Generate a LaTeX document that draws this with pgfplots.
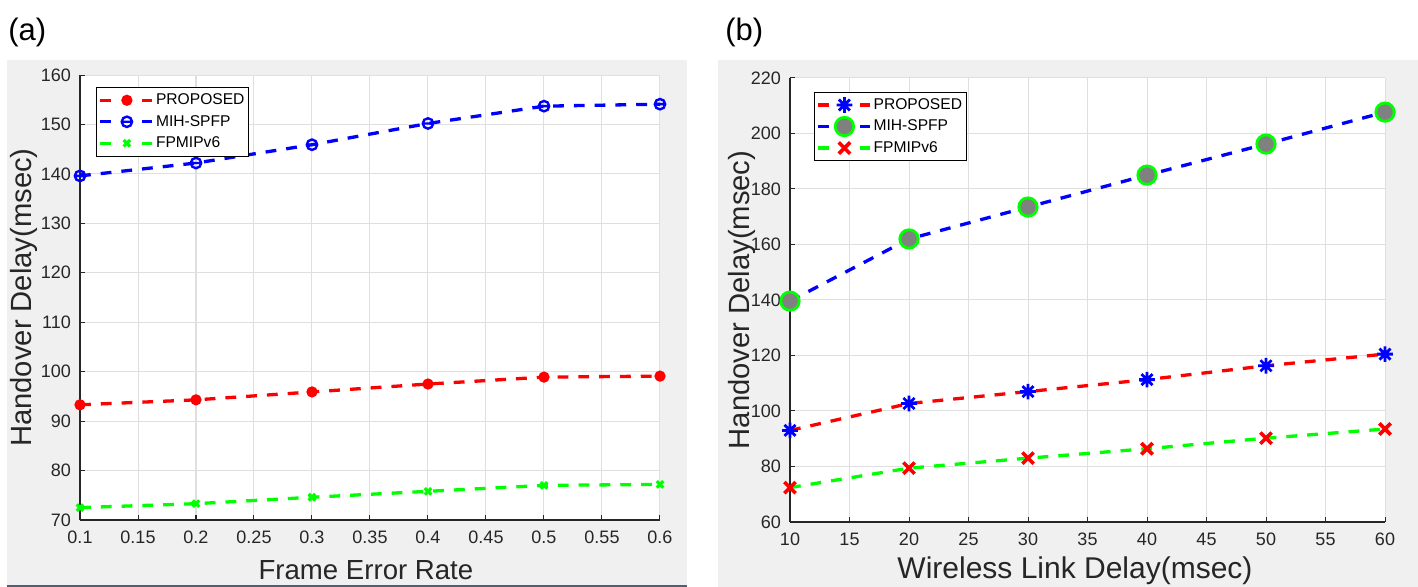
\documentclass[border=0pt]{standalone}
\usepackage{fontspec}
\setmainfont{Liberation Sans}
\usepackage{pgfplots}
\pgfplotsset{compat=1.18}

\definecolor{txt}{RGB}{38,38,38}
\definecolor{bg}{RGB}{240,240,240}
\definecolor{grd}{RGB}{223,223,223}
\definecolor{mred}{RGB}{255,0,0}
\definecolor{mblue}{RGB}{0,0,255}
\definecolor{mgreen}{RGB}{0,255,0}
\definecolor{mgray}{RGB}{128,128,128}
\definecolor{edge}{RGB}{80,95,115}

% circle with a bar through it (line seen through the open marker)
\pgfdeclareplotmark{ominus}{%
  \pgfpathcircle{\pgfpointorigin}{\pgfplotmarksize}%
  \pgfpathmoveto{\pgfqpoint{-\pgfplotmarksize}{0pt}}%
  \pgfpathlineto{\pgfqpoint{\pgfplotmarksize}{0pt}}%
  \pgfusepathqstroke}
% eight-armed asterisk
\pgfdeclareplotmark{ast8}{%
  \pgfpathmoveto{\pgfqpoint{0pt}{\pgfplotmarksize}}%
  \pgfpathlineto{\pgfqpoint{0pt}{-\pgfplotmarksize}}%
  \pgfpathmoveto{\pgfqpoint{\pgfplotmarksize}{0pt}}%
  \pgfpathlineto{\pgfqpoint{-\pgfplotmarksize}{0pt}}%
  \pgfpathmoveto{\pgfqpoint{0.707\pgfplotmarksize}{0.707\pgfplotmarksize}}%
  \pgfpathlineto{\pgfqpoint{-0.707\pgfplotmarksize}{-0.707\pgfplotmarksize}}%
  \pgfpathmoveto{\pgfqpoint{-0.707\pgfplotmarksize}{0.707\pgfplotmarksize}}%
  \pgfpathlineto{\pgfqpoint{0.707\pgfplotmarksize}{-0.707\pgfplotmarksize}}%
  \pgfusepathqstroke}

\pgfplotsset{
  mlab/.style={
    scale only axis,
    axis background/.style={fill=white},
    axis x line*=bottom, axis y line*=left,
    axis line style={txt, line width=0.6pt, -},
    tick align=inside,
    major tick length=2.5pt,
    tick style={txt, line width=0.5pt},
    grid=major,
    major grid style={grd, line width=0.5pt},
    clip=false,
    tick label style={font=\fontsize{9}{10}\selectfont, text=txt},
    xticklabel style={yshift=-2pt},
    yticklabel style={xshift=-1pt},
    label style={font=\fontsize{13.8}{16}\selectfont, text=txt},
    ylabel style={font=\fontsize{14.6}{17}\selectfont},
    /pgf/number format/assume math mode=true,
    legend cell align=left,
    legend style={font=\fontsize{7.8}{9}\selectfont, draw=black, line width=0.5pt,
      fill=white, inner xsep=1pt, inner ysep=1pt, row sep=0pt,
      nodes={inner xsep=1pt, inner ysep=0.5pt, text height=7pt, text depth=2.75pt}},
    legend image code/.code={
      \draw[#1, solid, mark=none] (0pt,0pt) -- (5.5pt,0pt);
      \draw[#1, solid, mark=none] (21pt,0pt) -- (26pt,0pt);
      \draw[#1, solid] plot coordinates {(13.25pt,0pt)};
    },
    every axis plot/.append style={line width=1.65pt, dash pattern=on 5.4pt off 5pt},
  }
}

\begin{document}
\begin{tikzpicture}
\useasboundingbox (0pt,0pt) rectangle (709pt,293.5pt);
\fill[bg] (3.5pt,0pt) rectangle (343.5pt,263.5pt);
\fill[bg] (359pt,0pt) rectangle (709pt,263.5pt);
\draw[edge, line width=1.2pt] (3.5pt,0.6pt) -- (343.5pt,0.6pt);
\node[anchor=base west, inner sep=0pt, font=\fontsize{15.5}{18}\selectfont] at (4pt,273.25pt) {(a)};
\node[anchor=base west, inner sep=0pt, font=\fontsize{15.5}{18}\selectfont] at (362.5pt,273.25pt) {(b)};

\begin{axis}[mlab,
  at={(40pt,33.5pt)}, anchor=south west,
  width=290pt, height=222.5pt,
  xmin=0.1, xmax=0.6, ymin=70, ymax=160,
  xtick={0.1,0.15,0.2,0.25,0.3,0.35,0.4,0.45,0.5,0.55,0.6}, ytick={70,80,...,160},
  xticklabel style={/pgf/number format/fixed, /pgf/number format/precision=2},
  xlabel={Frame Error Rate},
  ylabel={Handover Delay(msec)},
  xlabel style={at={(axis description cs:0.493,-0.1348)}, anchor=base},
  ylabel style={at={(axis description cs:-0.096,0.5)}, anchor=center},
  legend style={at={(0.028,0.973)}, anchor=north west},
]
\addplot[color=mred, mark=*, mark size=2.3pt, mark options={solid, fill=mred, line width=1pt}]
  coordinates {(0.1,93.3) (0.2,94.3) (0.3,95.9) (0.4,97.5) (0.5,98.9) (0.6,99.1)};
\addlegendentry{PROPOSED}
\addplot[color=mblue, mark=ominus, mark size=2.6pt, mark options={solid, line width=1.2pt}]
  coordinates {(0.1,139.6) (0.2,142.2) (0.3,145.9) (0.4,150.2) (0.5,153.7) (0.6,154.1)};
\addlegendentry{MIH-SPFP}
\addplot[color=mgreen, mark=x, mark size=2.3pt, mark options={solid, line width=1.6pt}]
  coordinates {(0.1,72.5) (0.2,73.3) (0.3,74.6) (0.4,75.8) (0.5,77.0) (0.6,77.2)};
\addlegendentry{FPMIPv6}
\end{axis}

\begin{axis}[mlab,
  at={(395pt,32.5pt)}, anchor=south west,
  width=297.5pt, height=222pt,
  xmin=10, xmax=60, ymin=60, ymax=220,
  xtick={10,15,...,60}, ytick={60,80,...,220},
  xlabel={Wireless Link Delay(msec)},
  ylabel={Handover Delay(msec)},
  xlabel style={font=\fontsize{15}{17}\selectfont, at={(axis description cs:0.479,-0.127)}, anchor=base},
  ylabel style={at={(axis description cs:-0.08,0.5)}, anchor=center},
  legend style={at={(0.04,0.969)}, anchor=north west},
]
\addplot[color=mred, mark=ast8, mark size=3.9pt, mark options={solid, draw=mblue, line width=1.4pt}]
  coordinates {(10,93) (20,102.7) (30,107) (40,111.3) (50,116.3) (60,120.5)};
\addlegendentry{PROPOSED}
\addplot[color=mblue, mark=*, mark size=4.6pt, mark options={solid, draw=mgreen, fill=mgray, line width=1.4pt}]
  coordinates {(10,139.6) (20,162) (30,173.5) (40,185) (50,196.2) (60,207.7)};
\addlegendentry{MIH-SPFP}
\addplot[color=mgreen, mark=x, mark size=4pt, mark options={solid, draw=mred, line width=1.8pt}]
  coordinates {(10,72.4) (20,79.4) (30,83) (40,86.4) (50,90.2) (60,93.5)};
\addlegendentry{FPMIPv6}
\end{axis}
\end{tikzpicture}
\end{document}
